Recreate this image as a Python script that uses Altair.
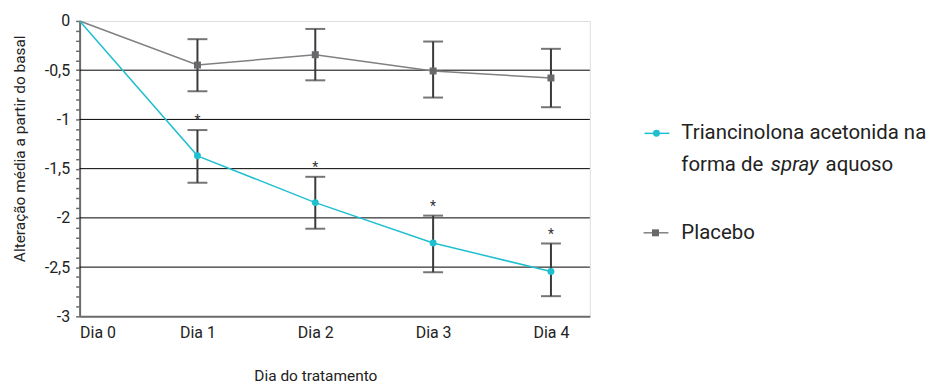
import altair as alt
import pandas as pd

# ---- data ----
days = [0, 1, 2, 3, 4]

tri_name = "Triancinolona acetonida na forma de spray aquoso"
tri_mean = [0.0, -1.37, -1.845, -2.255, -2.545]
tri_high = [None, -1.108, -1.583, -1.977, -2.26]
tri_low = [None, -1.643, -2.11, -2.552, -2.795]

pl_name = "Placebo"
pl_mean = [0.0, -0.448, -0.343, -0.508, -0.579]
pl_high = [None, -0.185, -0.081, -0.209, -0.283]
pl_low = [None, -0.714, -0.603, -0.778, -0.876]

signif = ["", "*", "*", "*", "*"]  # significance marks above the triamcinolone bars

grid_values = [-0.5, -1.0, -1.5, -2.0, -2.5]
y_ticks = [round(-i * 0.1, 1) for i in range(31)]

TRI_COLOR = "#1FBFCF"
PL_LINE = "#808080"
PL_MARK = "#67686B"
ERR_COLOR = "#3A3A3A"
AXIS_COLOR = "#6B6B6B"
FONT = "Roboto"

rows = []
for i, d in enumerate(days):
    rows.append(dict(day=d, mean=tri_mean[i], high=tri_high[i], low=tri_low[i],
                     series=tri_name, star=signif[i]))
    rows.append(dict(day=d, mean=pl_mean[i], high=pl_high[i], low=pl_low[i],
                     series=pl_name, star=""))
df = pd.DataFrame(rows)
err_df = df.dropna(subset=["high"])
tri_df = df[df.series == tri_name]
pl_df = df[df.series == pl_name]
star_df = df[df.star != ""]
grid_df = pd.DataFrame({"g": grid_values, "day": [0] * len(grid_values)})

x_scale = alt.Scale(domain=[0, 4.33], nice=False, zero=False)
y_scale = alt.Scale(domain=[-3, 0], nice=False, zero=False)

x_axis = alt.Axis(
    values=days,
    labelExpr="'Dia ' + datum.value",
    title="Dia do tratamento",
    ticks=False, grid=False,
    domainColor=AXIS_COLOR, domainWidth=2,
    labelFont=FONT, labelFontSize=16, labelColor="#222222", labelPadding=8,
    labelFlush=True,
    titleFont=FONT, titleFontSize=15.5, titleFontWeight="normal", titleColor="#222222",
    titleX=237, titleY=60, titleBaseline="middle", titleAlign="center",
)
y_axis = alt.Axis(
    values=y_ticks,
    labelExpr="abs(datum.value * 2 - round(datum.value * 2)) < 0.001 ? replace('' + datum.value, '.', ',') : ''",
    labelOverlap=False,
    title="Alteração média a partir do basal",
    grid=False,
    tickSize=4, tickColor=AXIS_COLOR, tickWidth=1.5,
    domainColor=AXIS_COLOR, domainWidth=2,
    labelFont=FONT, labelFontSize=16, labelColor="#222222", labelPadding=6,
    titleFont=FONT, titleFontSize=15.5, titleFontWeight="normal", titleColor="#222222",
    titleX=-60, titleY=128, titleBaseline="middle", titleAlign="center", titleAngle=-90,
)


def X(field="day"):
    return alt.X(f"{field}:Q", scale=x_scale, axis=x_axis)


def Y(field):
    return alt.Y(f"{field}:Q", scale=y_scale, axis=y_axis)


grid = alt.Chart(grid_df).mark_rule(color="#000000", strokeWidth=1).encode(y=Y("g"))

err = alt.Chart(err_df).mark_rule(color=ERR_COLOR, strokeWidth=2).encode(
    x=X(), y=Y("low"), y2="high:Q"
)
cap_hi = alt.Chart(err_df).mark_tick(color=ERR_COLOR, orient="horizontal", size=20, thickness=2).encode(
    x=X(), y=Y("high")
)
cap_lo = alt.Chart(err_df).mark_tick(color=ERR_COLOR, orient="horizontal", size=20, thickness=2).encode(
    x=X(), y=Y("low")
)

tri_line = alt.Chart(tri_df).mark_line(color=TRI_COLOR, strokeWidth=1.5).encode(x=X(), y=Y("mean"))
pl_line = alt.Chart(pl_df).mark_line(color=PL_LINE, strokeWidth=1.5).encode(x=X(), y=Y("mean"))
tri_pts = alt.Chart(tri_df[tri_df.day > 0]).mark_point(
    shape="circle", filled=True, opacity=1, size=49, color=TRI_COLOR
).encode(x=X(), y=Y("mean"))
pl_pts = alt.Chart(pl_df[pl_df.day > 0]).mark_point(
    shape="square", filled=True, opacity=1, size=49, color=PL_MARK
).encode(x=X(), y=Y("mean"))

stars = alt.Chart(star_df).mark_text(
    font=FONT, fontSize=14, color="#333333", baseline="alphabetic", dy=-5
).encode(x=X(), y=Y("high"), text="star:N")

# ---- legend (drawn by hand to allow the italic word) ----
one = pd.DataFrame({"k": [0]})
LX0, LX1, LXM, TX = 568, 593, 580, 605
Y1, Y2, YP = 113, 145, 213

leg_tri_line = alt.Chart(one).mark_rule(color=TRI_COLOR, strokeWidth=1.5).encode(
    x=alt.value(LX0), x2=alt.value(LX1), y=alt.value(Y1))
leg_tri_pt = alt.Chart(one).mark_point(shape="circle", filled=True, opacity=1, size=49,
                                        color=TRI_COLOR).encode(x=alt.value(LXM), y=alt.value(Y1))
leg_pl_line = alt.Chart(one).mark_rule(color=PL_LINE, strokeWidth=1.5).encode(
    x=alt.value(LX0 - 1), x2=alt.value(LX1 - 1), y=alt.value(YP))
leg_pl_pt = alt.Chart(one).mark_point(shape="square", filled=True, opacity=1, size=49,
                                       color=PL_MARK).encode(x=alt.value(LXM - 1), y=alt.value(YP))


def txt(s, x, y, style="normal"):
    return alt.Chart(one).mark_text(
        text=s, font=FONT, fontSize=20.5, fontStyle=style, color="#222222",
        align="left", baseline="middle"
    ).encode(x=alt.value(x), y=alt.value(y))


legend = [
    leg_tri_line, leg_tri_pt, leg_pl_line, leg_pl_pt,
    txt("Triancinolona acetonida na", TX, Y1),
    txt("forma de", TX, Y2),
    txt("spray", 695, Y2, "italic"),
    txt("aquoso", 750, Y2),
    txt("Placebo", TX, YP),
]

chart = alt.layer(
    grid, err, cap_hi, cap_lo, pl_line, tri_line, pl_pts, tri_pts, stars, *legend
).properties(
    width=513, height=297,
    autosize=alt.AutoSizeParams(type="none"),
    padding={"left": 72, "top": 12, "right": 340, "bottom": 69},
).configure_view(stroke=None).configure_axis(grid=False).configure(background="white")

chart.save("out.html", embed_options={"renderer": "svg", "actions": False})
